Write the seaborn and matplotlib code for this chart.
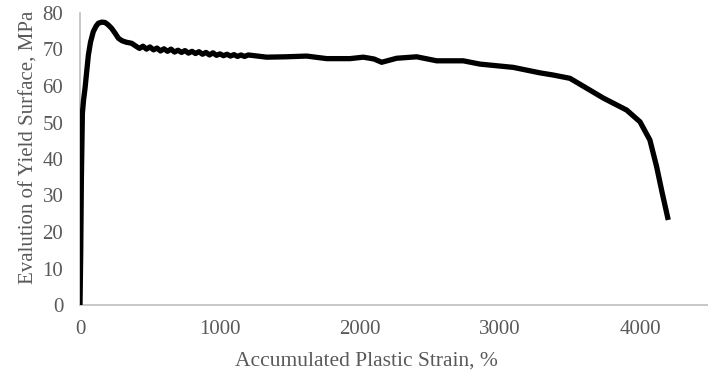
import matplotlib
matplotlib.use("Agg")
import matplotlib.pyplot as plt
import seaborn as sns
import pandas as pd

# Accumulated plastic strain (%) and yield surface (MPa)
strain = [0, 5, 10, 17, 25, 36, 48, 60, 75, 95, 115, 131, 155, 179, 200, 226, 250, 274, 300, 330, 369,
          400, 425, 450, 475, 500, 525, 550, 575, 600, 625, 650, 675, 700, 725, 750, 775, 800,
          825, 850, 875, 900, 925, 950, 975, 1000, 1025, 1050, 1075, 1100, 1125, 1150, 1175, 1202,
          1333, 1470, 1619, 1762, 1929, 2024, 2100, 2155, 2262, 2405, 2548, 2738, 2857, 3095, 3286,
          3381, 3500, 3619, 3738, 3905, 4000, 4071, 4119, 4160, 4202]
stress = [0, 14, 35, 52.5, 56, 59.4, 64, 68.5, 72, 74.9, 76.4, 77.2, 77.5, 77.4, 76.8, 75.8, 74.5, 73.1, 72.4, 72.0, 71.7,
          70.9, 70.3, 70.9, 70.1, 70.7, 69.9, 70.4, 69.6, 70.2, 69.5, 70.1, 69.3, 69.8, 69.2, 69.7, 69.0, 69.5,
          68.9, 69.4, 68.7, 69.2, 68.5, 69.1, 68.4, 68.8, 68.3, 68.7, 68.2, 68.6, 68.1, 68.5, 68.1, 68.5,
          67.9, 68.0, 68.2, 67.5, 67.5, 67.9, 67.4, 66.5, 67.6, 68.0, 66.9, 66.9, 66.0, 65.1, 63.6,
          63.0, 62.1, 59.4, 56.7, 53.4, 50.2, 45.2, 37.9, 30.5, 23.3]

x_ticks = [0, 1000, 2000, 3000, 4000]
y_ticks = [0, 10, 20, 30, 40, 50, 60, 70, 80]
x_label = "Accumulated Plastic Strain, %"
y_label = "Evalution of Yield Surface, MPa"

df = pd.DataFrame({"strain": strain, "stress": stress})

sns.set_theme(style="white")
plt.rcParams["font.family"] = ["Liberation Serif", "DejaVu Serif"]

fig = plt.figure(figsize=(7.08, 3.75), dpi=100)
ax = fig.add_axes([80 / 708, 1 - 305 / 375, 628 / 708, 292 / 375])

sns.lineplot(data=df, x="strain", y="stress", ax=ax, color="black", linewidth=3.8,
             sort=False, estimator=None)
for ln in ax.lines:
    ln.set_solid_joinstyle("round")
    ln.set_solid_capstyle("butt")

ax.set_xlim(0, 4486)
ax.set_ylim(0, 80)
ax.set_xticks(x_ticks)
ax.set_yticks(y_ticks)
ax.tick_params(axis="both", length=0, labelsize=15, labelcolor="#595959")
ax.tick_params(axis="y", pad=12)
ax.tick_params(axis="x", pad=11)
ax.set_xlabel(x_label, fontsize=15.5, color="#595959", labelpad=7)
ax.set_ylabel(y_label, fontsize=15, color="#595959", labelpad=3)
ax.xaxis.set_label_coords((366 - 80) / 628, -0.16)
ax.yaxis.label.set_position((0, (305 - 147) / 292))

for side in ["top", "right"]:
    ax.spines[side].set_visible(False)
for side in ["left", "bottom"]:
    ax.spines[side].set_color("#bfbfbf")
    ax.spines[side].set_linewidth(1.2)
    ax.spines[side].set_zorder(0)

fig.savefig("out.png", dpi=100)
